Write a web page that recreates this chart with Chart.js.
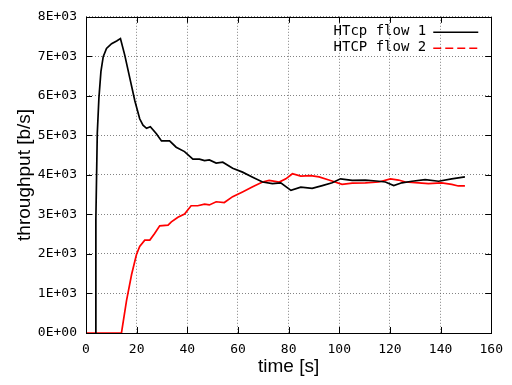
<!DOCTYPE html>
<html>
<head>
<meta charset="utf-8">
<script src="https://cdn.jsdelivr.net/npm/chart.js@4/dist/chart.umd.min.js"></script>
<style>
  html, body { margin: 0; padding: 0; background: #fff; }
  #plot { display: block; }
</style>
</head>
<body>
<canvas id="plot" width="512" height="385"></canvas>
<script>
// flow 1 (HTcp) - time [s] and throughput [b/s]
const flow1Time = [3.8, 3.9, 4.45, 5.1, 5.9, 6.8, 8.1, 10.1, 12.1, 13.6, 15.3, 17.3, 19.3, 21.2, 22.5, 23.9, 25.4, 27.8, 29.8, 33, 35.6, 38.9, 42.2, 44.8, 46.8, 48.7, 51.4, 54, 57.9, 61.8, 65.8, 69.7, 73.6, 76.9, 80.9, 84.8, 89.3, 93.3, 97.2, 100.5, 105.1, 110.3, 115.6, 118.2, 121.5, 124.7, 128.7, 133.9, 139.2, 144.4, 149.6];
const flow1Rate = [0, 2900, 5040, 5950, 6620, 6990, 7200, 7320, 7390, 7450, 7030, 6450, 5870, 5420, 5260, 5180, 5220, 5040, 4860, 4860, 4700, 4590, 4400, 4400, 4360, 4380, 4300, 4320, 4170, 4070, 3940, 3820, 3780, 3800, 3610, 3690, 3660, 3730, 3800, 3900, 3860, 3870, 3840, 3820, 3730, 3800, 3840, 3880, 3840, 3900, 3950];

// flow 2 (HTCP)
const flow2Time = [0, 14.0, 16, 18, 19.9, 21.2, 23.2, 25.2, 27.1, 29.1, 32.4, 33.7, 36.3, 38.9, 41.5, 44.1, 46.8, 48.7, 51.4, 54.6, 57.9, 61.8, 65.8, 69.7, 72.3, 76.3, 78.9, 81.5, 84.8, 88.7, 92, 95.9, 101.1, 105.1, 110.3, 115.6, 120.2, 123.4, 126.1, 131.3, 135.2, 140.4, 144.4, 147, 149.6];
const flow2Rate = [0, 0, 820, 1480, 1980, 2190, 2350, 2350, 2520, 2710, 2730, 2810, 2930, 3010, 3220, 3220, 3260, 3240, 3320, 3300, 3450, 3570, 3700, 3820, 3860, 3820, 3900, 4030, 3970, 3980, 3950, 3870, 3760, 3790, 3800, 3820, 3900, 3870, 3820, 3800, 3780, 3800, 3760, 3720, 3720];

const seriesNames = ['HTcp flow 1', 'HTCP flow 2'];
const xTicks = [0, 20, 40, 60, 80, 100, 120, 140, 160];
const yTicks = [0, 1000, 2000, 3000, 4000, 5000, 6000, 7000, 8000];

const monoFont = '"DejaVu Sans Mono", monospace';
const sansFont = '"Liberation Sans", Arial, sans-serif';

function toPoints(xs, ys) {
    return xs.map((x, i) => ({ x, y: ys[i] }));
}

function expLabel(v) {
    if (v === 0) return '0E+00';
    return (v / 1000) + 'E+03';
}

// gnuplot style frame: full border, inward ticks on all four sides, key in the corner
const gnuplotFrame = {
    id: 'gnuplotFrame',
    afterDraw(chart) {
        const ctx = chart.ctx;
        const area = chart.chartArea;
        const xs = chart.scales.x;
        const ys = chart.scales.y;
        const tick = 6;

        ctx.save();
        ctx.strokeStyle = '#000';
        ctx.lineWidth = 1;
        ctx.beginPath();
        xTicks.forEach(v => {
            const px = Math.round(xs.getPixelForValue(v)) + 0.5;
            ctx.moveTo(px, area.bottom);
            ctx.lineTo(px, area.bottom - tick);
            ctx.moveTo(px, area.top);
            ctx.lineTo(px, area.top + tick);
        });
        yTicks.forEach(v => {
            const py = Math.round(ys.getPixelForValue(v)) + 0.5;
            ctx.moveTo(area.left, py);
            ctx.lineTo(area.left + tick, py);
            ctx.moveTo(area.right, py);
            ctx.lineTo(area.right - tick, py);
        });
        ctx.stroke();
        ctx.strokeRect(Math.round(area.left) + 0.5, Math.round(area.top) + 0.5,
            Math.round(area.right - area.left), Math.round(area.bottom - area.top));

        // key
        ctx.font = '14px ' + monoFont;
        ctx.textAlign = 'right';
        ctx.textBaseline = 'middle';
        ctx.fillStyle = '#000';
        const textRight = area.right - 65;
        const sampleLeft = area.right - 58;
        const sampleRight = area.right - 13;
        chart.data.datasets.forEach((ds, i) => {
            const y = area.top + 15 + i * 16;
            ctx.fillText(ds.label, textRight, y);
            ctx.beginPath();
            ctx.strokeStyle = ds.borderColor;
            ctx.lineWidth = 1.5;
            ctx.setLineDash(i === 0 ? [] : [8, 4]);
            ctx.moveTo(sampleLeft, y + 0.5);
            ctx.lineTo(sampleRight, y + 0.5);
            ctx.stroke();
        });
        ctx.restore();
    }
};

const gridStyle = {
    color: 'rgba(90, 90, 90, 0.75)',
    lineWidth: 1,
    drawTicks: false
};

new Chart(document.getElementById('plot'), {
    type: 'line',
    data: {
        datasets: [
            {
                label: seriesNames[0],
                data: toPoints(flow1Time, flow1Rate),
                borderColor: '#000000',
                borderWidth: 1.7,
                pointRadius: 0,
                tension: 0,
                fill: false
            },
            {
                label: seriesNames[1],
                data: toPoints(flow2Time, flow2Rate),
                borderColor: '#ff0000',
                borderWidth: 1.7,
                pointRadius: 0,
                tension: 0,
                fill: false
            }
        ]
    },
    options: {
        responsive: false,
        animation: false,
        layout: { padding: { left: 0, top: 11, right: 19, bottom: 0 } },
        plugins: {
            legend: { display: false },
            tooltip: { enabled: false }
        },
        scales: {
            x: {
                type: 'linear',
                min: 0,
                max: 160,
                afterFit(scale) { scale.height = 52; },
                afterBuildTicks(scale) { scale.ticks = xTicks.map(v => ({ value: v })); },
                ticks: {
                    padding: 9,
                    color: '#000',
                    font: { family: monoFont, size: 13 },
                    maxRotation: 0
                },
                grid: gridStyle,
                border: { display: false, dash: [1, 2] },
                title: {
                    display: true,
                    text: 'time [s]',
                    color: '#000',
                    font: { family: sansFont, size: 19 },
                    padding: { top: 0, bottom: 7 }
                }
            },
            y: {
                type: 'linear',
                min: 0,
                max: 8000,
                afterFit(scale) { scale.width = 86; },
                afterBuildTicks(scale) { scale.ticks = yTicks.map(v => ({ value: v })); },
                ticks: {
                    padding: 9,
                    color: '#000',
                    font: { family: monoFont, size: 13 },
                    callback: v => expLabel(v)
                },
                grid: gridStyle,
                border: { display: false, dash: [1, 2] },
                title: {
                    display: true,
                    text: 'throughput [b/s]',
                    color: '#000',
                    font: { family: sansFont, size: 19 },
                    padding: { top: 13, bottom: 0 }
                }
            }
        }
    },
    plugins: [gnuplotFrame]
});
</script>
</body>
</html>
